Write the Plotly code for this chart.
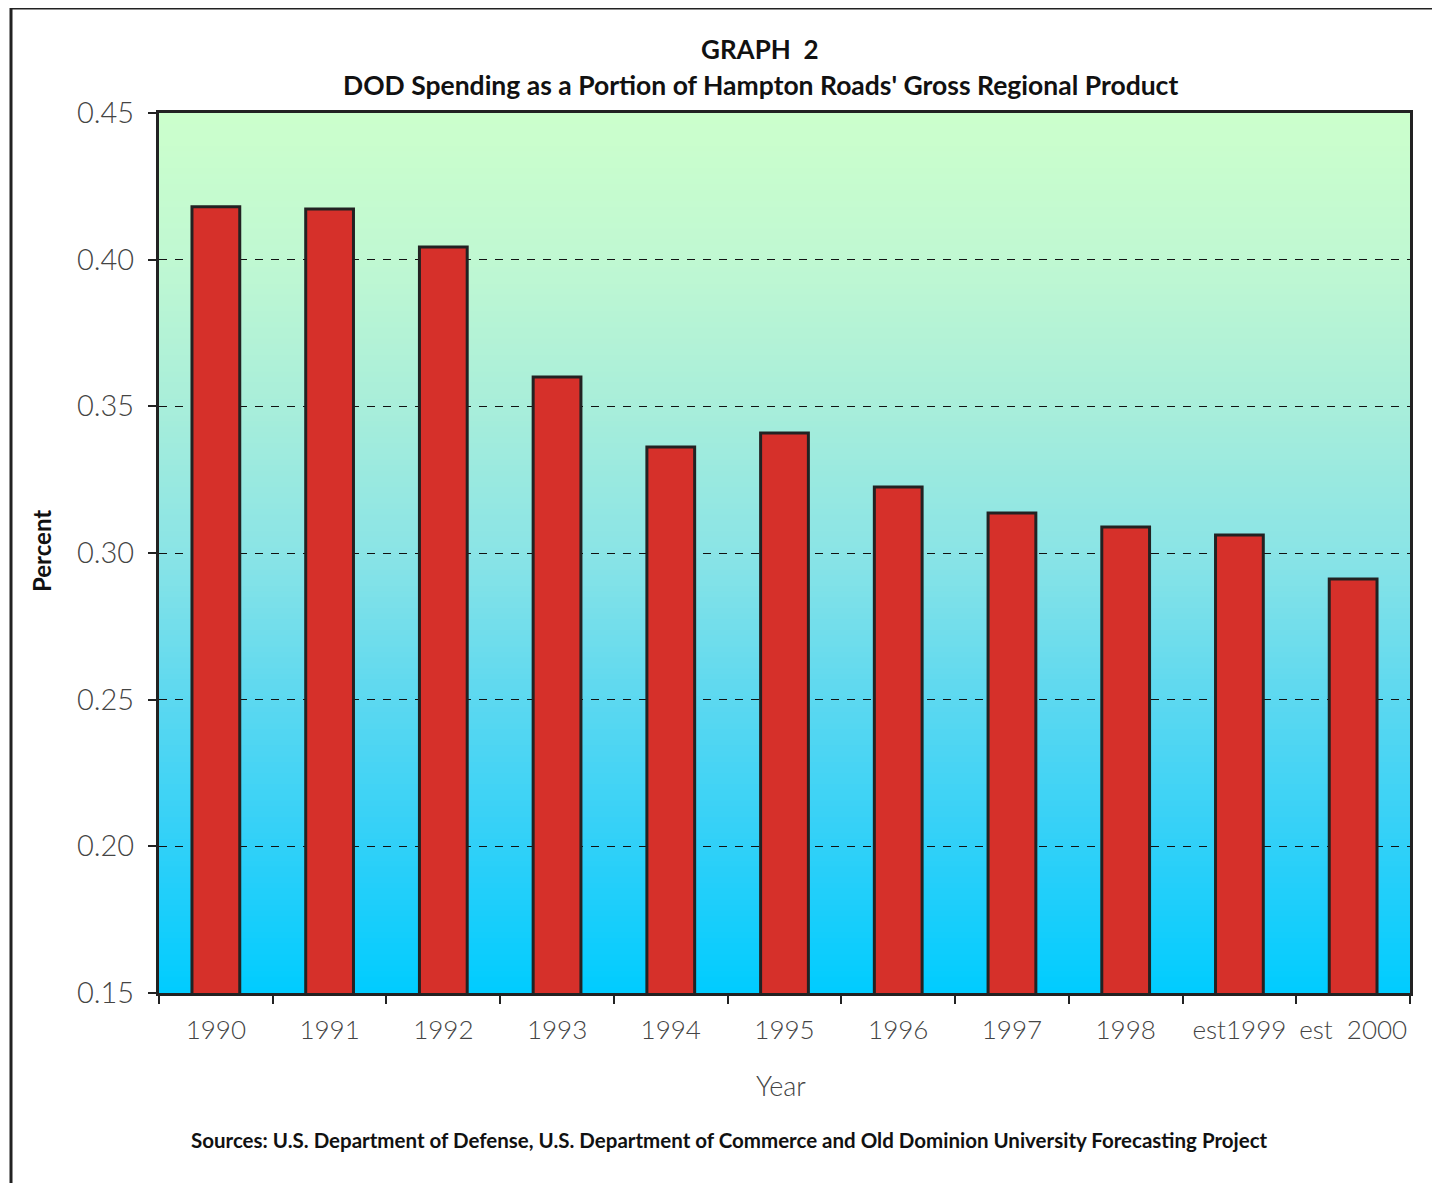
import plotly.graph_objects as go

years = ["1990", "1991", "1992", "1993", "1994", "1995", "1996", "1997", "1998", "est1999", "est  2000"]
values = [0.418, 0.4173, 0.4043, 0.360, 0.3361, 0.3409, 0.3225, 0.3136, 0.3089, 0.3061, 0.2911]
y_ticks = [0.15, 0.20, 0.25, 0.30, 0.35, 0.40, 0.45]

OFF = 8  # page body margin
W, H = 1440 - OFF, 1183 - OFF
PL, PR, PT, PB = 159, 1410, 113, 993  # plot area in page pixels
L, R, T, B = PL - OFF, W - (PR - OFF), PT - OFF, H - (PB - OFF)
PW, PH = PR - PL, PB - PT

def px_x(x):
    return (x - PL) / PW

def px_y(y):
    return (PB - y) / PH

# background gradient stops (fraction from bottom, rgb)
stops = [
    (0.0, (0, 204, 255)),
    (1/6, (48, 208, 248)),
    (2/6, (92, 216, 240)),
    (3/6, (138, 228, 230)),
    (4/6, (168, 238, 218)),
    (5/6, (192, 248, 210)),
    (1.0, (204, 255, 204)),
]

def color_at(f):
    for (f0, c0), (f1, c1) in zip(stops[:-1], stops[1:]):
        if f0 <= f <= f1:
            t = (f - f0) / (f1 - f0)
            c = [round(a + (b - a) * t) for a, b in zip(c0, c1)]
            return "rgb(%d,%d,%d)" % tuple(c)
    return "rgb(%d,%d,%d)" % stops[-1][1]

shapes = []
N = 160
for i in range(N):
    f0 = i / N
    f1 = (i + 1) / N
    shapes.append(dict(type="rect", xref="x domain", yref="y domain",
                       x0=0, x1=1, y0=f0, y1=f1 + 0.002,
                       fillcolor=color_at((f0 + f1) / 2), line=dict(width=0),
                       layer="below"))

# outer frame
shapes.append(dict(type="rect", xref="paper", yref="paper",
                   x0=px_x(11), x1=px_x(1470), y0=px_y(1230), y1=px_y(8),
                   line=dict(color="#222222", width=3), fillcolor="rgba(0,0,0,0)",
                   layer="above"))

fig = go.Figure()
fig.add_trace(go.Bar(
    x=years, y=values,
    marker=dict(color="#D6302A", line=dict(color="#222222", width=3)),
    width=0.42,
))

fig.update_layout(
    width=W, height=H,
    margin=dict(l=L, r=R, t=T, b=B, pad=0, autoexpand=False),
    paper_bgcolor="white",
    plot_bgcolor="rgba(0,0,0,0)",
    showlegend=False,
    shapes=shapes,
    bargap=0.58,
    xaxis=dict(
        type="category",
        automargin=False,
        tickangle=0,
        showline=True, linecolor="#222222", linewidth=3, mirror=True,
        ticks="outside", tickson="boundaries", ticklen=8, tickcolor="#222222", tickwidth=1.5,
        tickfont=dict(family="Lato", size=26, color="#444444", weight=300),
        ticklabelstandoff=12,
        showgrid=False,
        title=None,
    ),
    yaxis=dict(
        automargin=False,
        range=[0.15, 0.45],
        tickvals=y_ticks,
        tickformat=".2f",
        showline=True, linecolor="#222222", linewidth=3, mirror=True,
        ticks="outside", ticklen=8, tickcolor="#222222", tickwidth=1.5,
        tickfont=dict(family="Lato", size=29, color="#444444", weight=300),
        ticklabelstandoff=8,
        showgrid=True, gridcolor="#111111", gridwidth=1, griddash="8px,8px",
        zeroline=False,
        title=None,
    ),
    annotations=[
        dict(text="<b>GRAPH  2</b>", xref="paper", yref="paper", x=px_x(760), y=px_y(49),
             showarrow=False, xanchor="center", yanchor="middle",
             font=dict(family="Lato", size=26, color="#111111")),
        dict(text="<b>DOD Spending as a Portion of Hampton Roads' Gross Regional Product</b>",
             xref="paper", yref="paper", x=px_x(760), y=px_y(85),
             showarrow=False, xanchor="center", yanchor="middle",
             font=dict(family="Lato", size=26.5, color="#111111")),
        dict(text="<b>Percent</b>", xref="paper", yref="paper", x=px_x(41), y=px_y(551),
             showarrow=False, xanchor="center", yanchor="middle", textangle=-90,
             font=dict(family="Lato", size=24, color="#111111")),
        dict(text="Year", xref="paper", yref="paper", x=px_x(781), y=px_y(1085),
             showarrow=False, xanchor="center", yanchor="middle",
             font=dict(family="Lato", size=27, color="#444444", weight=300)),
        dict(text="<b>Sources: U.S. Department of Defense, U.S. Department of Commerce and Old Dominion University Forecasting Project</b>",
             xref="paper", yref="paper", x=px_x(729), y=px_y(1140),
             showarrow=False, xanchor="center", yanchor="middle",
             font=dict(family="Lato", size=20.5, color="#111111")),
    ],
)

fig.write_html("out.html")
